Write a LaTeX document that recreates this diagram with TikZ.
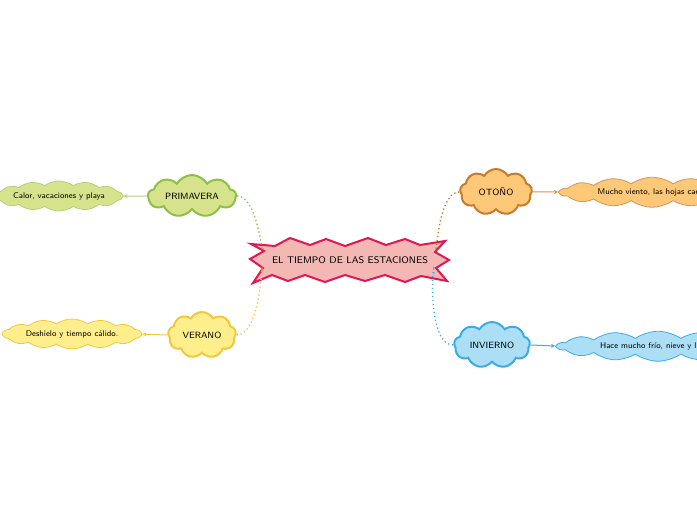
\documentclass[tikz,border=0pt]{standalone}
\usetikzlibrary{shapes.symbols,arrows.meta}
\definecolor{starFill}{RGB}{243,184,180}
\definecolor{starLine}{RGB}{226,22,82}
\definecolor{primFill}{RGB}{215,226,140}
\definecolor{primLine}{RGB}{142,192,72}
\definecolor{verFill}{RGB}{255,238,140}
\definecolor{verLine}{RGB}{242,200,64}
\definecolor{otoFill}{RGB}{253,200,120}
\definecolor{otoLine}{RGB}{202,122,44}
\definecolor{invFill}{RGB}{172,223,246}
\definecolor{invLine}{RGB}{58,172,230}
\tikzset{every picture/.style={line width=0.75pt}}
\tikzset{
  season/.style={cloud, cloud puffs=9, cloud puff arc=120, cloud ignores aspect, line width=1.5pt, inner sep=0pt, font=\sffamily\fontsize{6.8}{8}\selectfont},
  leaf/.style={cloud, cloud puffs=14, cloud puff arc=70, cloud ignores aspect, line width=0.6pt, inner sep=0pt, minimum height=22.5pt, font=\sffamily\fontsize{6.2}{7}\selectfont},
  branch/.style={dotted, line width=1pt},
  twig/.style={-{Stealth[length=3pt,width=3pt]}, line width=0.75pt}
}
\begin{document}
\begin{tikzpicture}[x=0.75pt,y=0.75pt,yscale=-1,xscale=1]
\useasboundingbox (0,0) rectangle (697,520);
\clip (0,0) rectangle (697,520);

%Shape: Polygon [id:burst]
\draw [fill=starFill, draw=starLine, line width=1.5pt, line join=miter] (251,244) -- (275,246) -- (290,238) -- (310,245) -- (326,239) -- (345,246) -- (368,238) -- (386,245) -- (405,239) -- (420,245) -- (445,241) -- (435,252) -- (449,260) -- (436,268) -- (447,281) -- (421,276) -- (405,282) -- (385,275) -- (365,281) -- (345,275) -- (325,282) -- (305,275) -- (288,281) -- (272,275) -- (253,283) -- (263,268) -- (250,259) -- (264,251) -- cycle ;
% Text Node
\node [inner sep=0pt, font=\sffamily\fontsize{7.2}{9}\selectfont] (star) at (350,260) {EL TIEMPO DE LAS ESTACIONES};

%Shape: Cloud [id:seasons]
\node [season, minimum width=66pt, minimum height=31.5pt, fill=primFill, draw=primLine] (prim) at (192,196) {PRIMAVERA};
\node [season, minimum width=51pt, minimum height=34.5pt, fill=verFill, draw=verLine] (ver) at (202,335) {VERANO};
\node [season, minimum width=54pt, minimum height=34.5pt, fill=otoFill, draw=otoLine] (oto) at (496,192) {OTOÑO};
\node [season, minimum width=57pt, minimum height=34.5pt, fill=invFill, draw=invLine] (inv) at (492,345) {INVIERNO};

%Shape: Cloud [id:leaves]
\node [leaf, minimum width=94pt, fill=primFill, draw=primLine!70] (calor) at (59,196) {Calor, vacaciones y playa};
\node [leaf, minimum width=103.5pt, fill=verFill, draw=verLine] (deshielo) at (72,334) {Deshielo y tiempo cálido.};
\node [leaf, minimum width=138pt, fill=otoFill, draw=otoLine!80, anchor=west] (viento) at (558,192) {Mucho viento, las hojas caen.};
\node [leaf, minimum width=151pt, fill=invFill, draw=invLine, anchor=west] (frio) at (555,346) {Hace mucho frío, nieve y lluvia.};

%Straight Lines [id:joints]
\coordinate (jPrim) at (263,246);
\coordinate (jVer) at (262,276);
\coordinate (jOto) at (436,246);
\coordinate (jInv) at (434,274);

% Dotted branches
\draw [branch, primLine] (prim.east) to[out=0,in=90] (jPrim);
\draw [branch, verLine] (ver.east) to[out=0,in=-90] (jVer);
\draw [branch, otoLine] (oto.west) to[out=180,in=90] (jOto);
\draw [branch, invLine] (inv.west) to[out=180,in=-90] (jInv);

% Twigs
\draw [twig, primLine!70] (prim.west) -- (calor.east);
\draw [twig, verLine] (ver.west) -- (deshielo.east);
\draw [twig, otoLine!80] (oto.east) -- (viento.west);
\draw [twig, invLine] (inv.east) -- (frio.west);

\end{tikzpicture}
\end{document}
